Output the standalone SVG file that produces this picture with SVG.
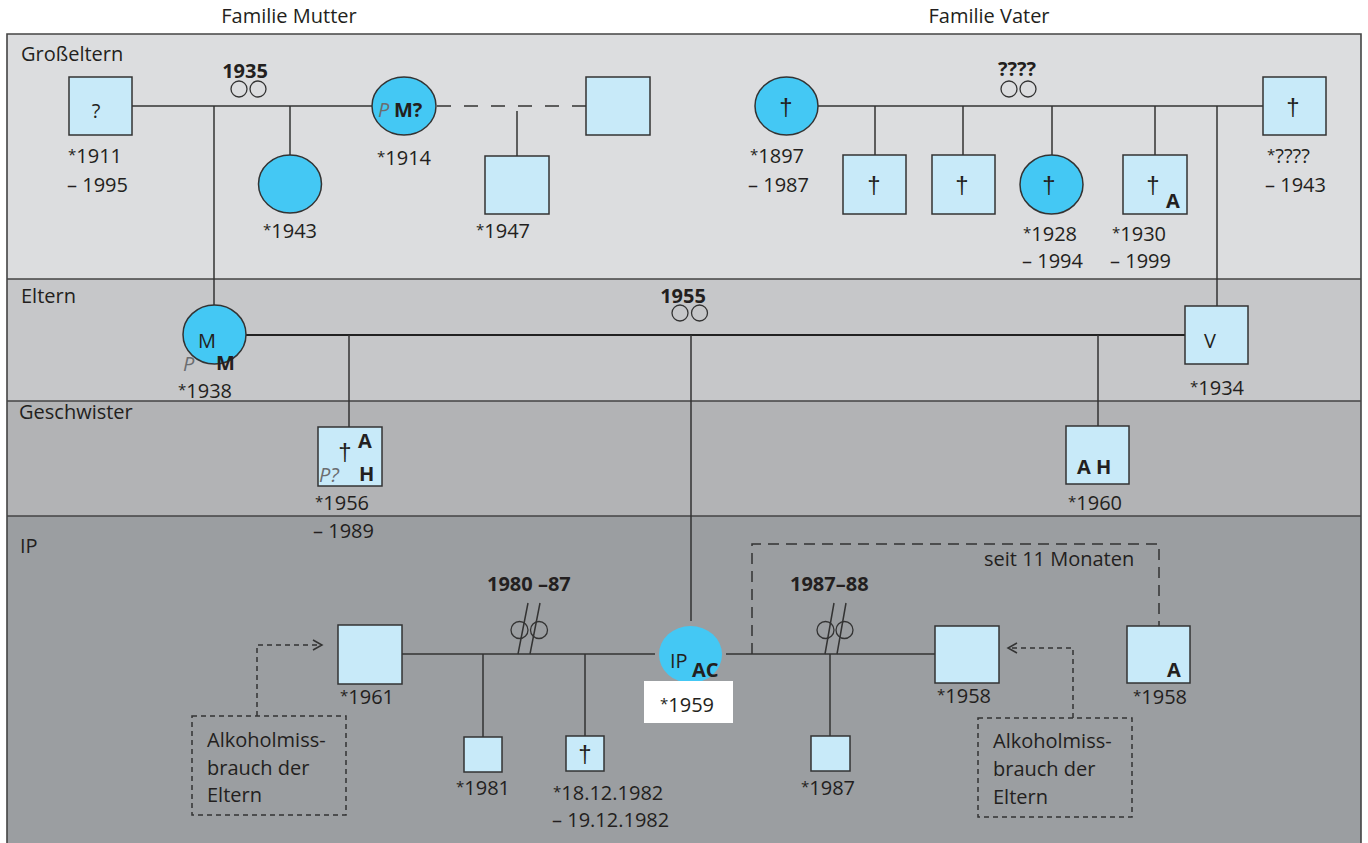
<svg xmlns="http://www.w3.org/2000/svg" width="1368" height="843" viewBox="0 0 1368 843">
<style>
.t{font-family:"Open Sans","Noto Sans","Liberation Sans",sans-serif;font-size:20px;fill:#231f20}
.b{font-weight:700}
.p{font-style:italic;fill:#6b6d70}
.m{text-anchor:middle}
.dg{font-family:"Liberation Sans","Open Sans",sans-serif;font-size:24px}
.st{font-size:15px;baseline-shift:3px}
.sq{fill:#c8eaf9;stroke:#333;stroke-width:1.5}
.ci{fill:#44c8f4;stroke:#333;stroke-width:1.5}
.ip{fill:#44c8f4}
.ln{stroke:#333;stroke-width:1.5;fill:none}
.ring{fill:none;stroke:#333;stroke-width:1.3}
.dl{stroke:#333;stroke-width:1.5;fill:none;stroke-dasharray:14 13}
.dr{stroke:#333;stroke-width:1.5;fill:none;stroke-dasharray:11 7}
.ds{stroke:#333;stroke-width:1.5;fill:none;stroke-dasharray:5 4}
.frame{stroke:#444;stroke-width:1.6;fill:none}
</style>
<rect width="1368" height="843" fill="#ffffff"/>
<!-- bands -->
<rect x="7" y="34" width="1354" height="245" fill="#dcdddf"/>
<rect x="7" y="279" width="1354" height="122" fill="#c6c7c9"/>
<rect x="7" y="401" width="1354" height="115" fill="#b2b3b5"/>
<rect x="7" y="516" width="1354" height="330" fill="#9b9ea1"/>
<path class="frame" d="M7,846 V34 H1361 V846 M7,279 H1361 M7,401 H1361 M7,516 H1361"/>
<text class="t m" x="289" y="23">Familie Mutter</text>
<text class="t m" x="989" y="23">Familie Vater</text>
<text class="t" x="21" y="61">Großeltern</text>
<text class="t" x="21" y="303">Eltern</text>
<text class="t" x="19" y="419">Geschwister</text>
<text class="t" x="20" y="553">IP</text>

<g id="connectors">
  <!-- maternal grandparents -->
  <path class="ln" d="M132,106 H372"/>
  <path class="ln" d="M214,106 V305"/>
  <path class="ln" d="M290,106 V155"/>
  <text class="t b m" x="245" y="78">1935</text>
  <circle class="ring" cx="239" cy="89" r="8"/>
  <circle class="ring" cx="258" cy="89" r="8"/>
  <path class="dl" d="M437,106 H586"/>
  <path class="ln" d="M517,111 V156"/>
  <!-- paternal grandparents -->
  <path class="ln" d="M818,106 H1263"/>
  <path class="ln" d="M875,106 V155 M963,106 V155 M1052,106 V155 M1155,106 V155"/>
  <path class="ln" d="M1217,106 V306"/>
  <text class="t b m" x="1017" y="76">????</text>
  <circle class="ring" cx="1009" cy="89" r="8"/>
  <circle class="ring" cx="1028" cy="89" r="8"/>
  <!-- parents -->
  <path stroke="#222" stroke-width="2.2" fill="none" d="M246,335 H1185"/>
  <path class="ln" d="M349,335 V427 M1098,335 V426 M691,335 V621"/>
  <text class="t b m" x="683" y="303">1955</text>
  <circle class="ring" cx="680" cy="313" r="8"/>
  <circle class="ring" cx="699.5" cy="313" r="8"/>
  <!-- IP left partnership -->
  <path class="ln" d="M402,654 H655"/>
  <path class="ln" d="M483,654 V737 M585,654 V736"/>
  <text class="t b" x="487" y="591">1980 –87</text>
  <circle class="ring" cx="519.5" cy="630" r="8.5"/>
  <circle class="ring" cx="539" cy="630" r="8.5"/>
  <path class="ln" d="M528,603 L518,654 M540,603 L530,654"/>
  <!-- IP right partnership -->
  <path class="ln" d="M726,654 H935"/>
  <path class="ln" d="M830,654 V736"/>
  <text class="t b" x="790" y="591">1987–88</text>
  <circle class="ring" cx="825.5" cy="630" r="8.5"/>
  <circle class="ring" cx="844.5" cy="630" r="8.5"/>
  <path class="ln" d="M834,603 L825,654 M846,603 L837,654"/>
  <path class="dr" d="M752,654 V544 H1159 V626"/>
  <text class="t" x="984" y="566">seit 11 Monaten</text>
  <!-- alcohol arrows -->
  <path class="ds" d="M257,716 V645 H321"/>
  <path class="ln" d="M313,640 L322,645 L313,650"/>
  <path class="ds" d="M1073,718 V648 H1009"/>
  <path class="ln" d="M1017,643 L1008,648 L1017,653"/>
</g>

<g id="gf-mutter">
  <rect class="sq" x="69" y="77" width="63" height="58"/>
  <text class="t m" x="96" y="118">?</text>
  <text class="t" x="68" y="163"><tspan class="st">*</tspan>1911</text>
  <text class="t" x="67" y="192">– 1995</text>
</g>
<g id="tante-1943">
  <ellipse class="ci" cx="290" cy="184" rx="31.5" ry="29"/>
  <text class="t" x="263" y="238"><tspan class="st">*</tspan>1943</text>
</g>
<g id="gm-mutter">
  <ellipse class="ci" cx="404" cy="106" rx="32" ry="29"/>
  <text class="t p" x="378" y="117">P</text>
  <text class="t b" x="394" y="117">M?</text>
  <text class="t" x="377" y="165"><tspan class="st">*</tspan>1914</text>
</g>
<g id="onkel-1947">
  <rect class="sq" x="485" y="156" width="64" height="58"/>
  <text class="t" x="476" y="238"><tspan class="st">*</tspan>1947</text>
</g>
<g id="partner-gm">
  <rect class="sq" x="586" y="77" width="64" height="58"/>
</g>
<g id="gm-vater">
  <ellipse class="ci" cx="786.5" cy="106" rx="31.5" ry="29"/>
  <text class="t dg m" x="786" y="115">†</text>
  <text class="t" x="750" y="163"><tspan class="st">*</tspan>1897</text>
  <text class="t" x="748" y="192">– 1987</text>
</g>
<g id="onkel-v1">
  <rect class="sq" x="843" y="155" width="63" height="59"/>
  <text class="t dg m" x="874" y="193">†</text>
</g>
<g id="onkel-v2">
  <rect class="sq" x="932" y="155" width="63" height="59"/>
  <text class="t dg m" x="962" y="193">†</text>
</g>
<g id="tante-v">
  <ellipse class="ci" cx="1051.5" cy="184.5" rx="31.5" ry="29.5"/>
  <text class="t dg m" x="1049" y="193">†</text>
  <text class="t" x="1023" y="241"><tspan class="st">*</tspan>1928</text>
  <text class="t" x="1022" y="268">– 1994</text>
</g>
<g id="onkel-v3">
  <rect class="sq" x="1123" y="155" width="64" height="59"/>
  <text class="t dg m" x="1153" y="193">†</text>
  <text class="t b" x="1166" y="208">A</text>
  <text class="t" x="1112" y="241"><tspan class="st">*</tspan>1930</text>
  <text class="t" x="1110" y="268">– 1999</text>
</g>
<g id="gf-vater">
  <rect class="sq" x="1263" y="77" width="63" height="58"/>
  <text class="t dg m" x="1293" y="115">†</text>
  <text class="t" x="1267" y="163"><tspan class="st">*</tspan>????</text>
  <text class="t" x="1265" y="192">– 1943</text>
</g>
<g id="mutter">
  <ellipse class="ci" cx="214.5" cy="334.5" rx="31.5" ry="29.5"/>
  <text class="t m" x="207" y="348">M</text>
  <text class="t p" x="183" y="371">P</text>
  <text class="t b" x="216" y="370">M</text>
  <text class="t" x="178" y="398"><tspan class="st">*</tspan>1938</text>
</g>
<g id="vater">
  <rect class="sq" x="1185" y="306" width="63" height="58"/>
  <text class="t m" x="1210" y="348">V</text>
  <text class="t" x="1190" y="395"><tspan class="st">*</tspan>1934</text>
</g>
<g id="bruder-1956">
  <rect class="sq" x="318" y="427" width="64" height="59"/>
  <text class="t dg m" x="345" y="460">†</text>
  <text class="t b" x="358" y="448">A</text>
  <text class="t b" x="359" y="481">H</text>
  <text class="t p" x="319" y="482">P?</text>
  <text class="t" x="315" y="510"><tspan class="st">*</tspan>1956</text>
  <text class="t" x="313" y="538">– 1989</text>
</g>
<g id="bruder-1960">
  <rect class="sq" x="1066" y="426" width="63" height="58"/>
  <text class="t b" x="1077" y="474">A H</text>
  <text class="t" x="1068" y="510"><tspan class="st">*</tspan>1960</text>
</g>
<g id="ip">
  <ellipse class="ip" cx="690.5" cy="654.5" rx="31.5" ry="28.5"/>
  <text class="t" x="670" y="668">IP</text>
  <text class="t b" x="692" y="677">AC</text>
  <rect x="644" y="681" width="89" height="42" fill="#ffffff"/>
  <text class="t" x="660" y="712"><tspan class="st">*</tspan>1959</text>
</g>
<g id="partner-1961">
  <rect class="sq" x="338" y="625" width="64" height="59"/>
  <text class="t" x="340" y="704"><tspan class="st">*</tspan>1961</text>
</g>
<g id="kind-1981">
  <rect class="sq" x="464" y="737" width="38" height="35"/>
  <text class="t" x="456" y="795"><tspan class="st">*</tspan>1981</text>
</g>
<g id="kind-1982">
  <rect class="sq" x="566" y="736" width="38" height="35"/>
  <text class="t dg m" x="585" y="762">†</text>
  <text class="t" x="553" y="800"><tspan class="st">*</tspan>18.12.1982</text>
  <text class="t" x="552" y="827">– 19.12.1982</text>
</g>
<g id="partner-1958">
  <rect class="sq" x="935" y="626" width="64" height="57"/>
  <text class="t" x="937" y="703"><tspan class="st">*</tspan>1958</text>
</g>
<g id="kind-1987">
  <rect class="sq" x="811" y="736" width="39" height="35"/>
  <text class="t" x="801" y="795"><tspan class="st">*</tspan>1987</text>
</g>
<g id="partner-aktuell">
  <rect class="sq" x="1127" y="626" width="63" height="57"/>
  <text class="t b" x="1167" y="677">A</text>
  <text class="t" x="1133" y="704"><tspan class="st">*</tspan>1958</text>
</g>
<g id="alkohol-links">
  <rect class="ds" x="192" y="716" width="154" height="99"/>
  <text class="t" x="207" y="747">Alkoholmiss-</text>
  <text class="t" x="207" y="775">brauch der</text>
  <text class="t" x="207" y="802">Eltern</text>
</g>
<g id="alkohol-rechts">
  <rect class="ds" x="978" y="718" width="154" height="99"/>
  <text class="t" x="993" y="748">Alkoholmiss-</text>
  <text class="t" x="993" y="776">brauch der</text>
  <text class="t" x="993" y="804">Eltern</text>
</g>
</svg>
